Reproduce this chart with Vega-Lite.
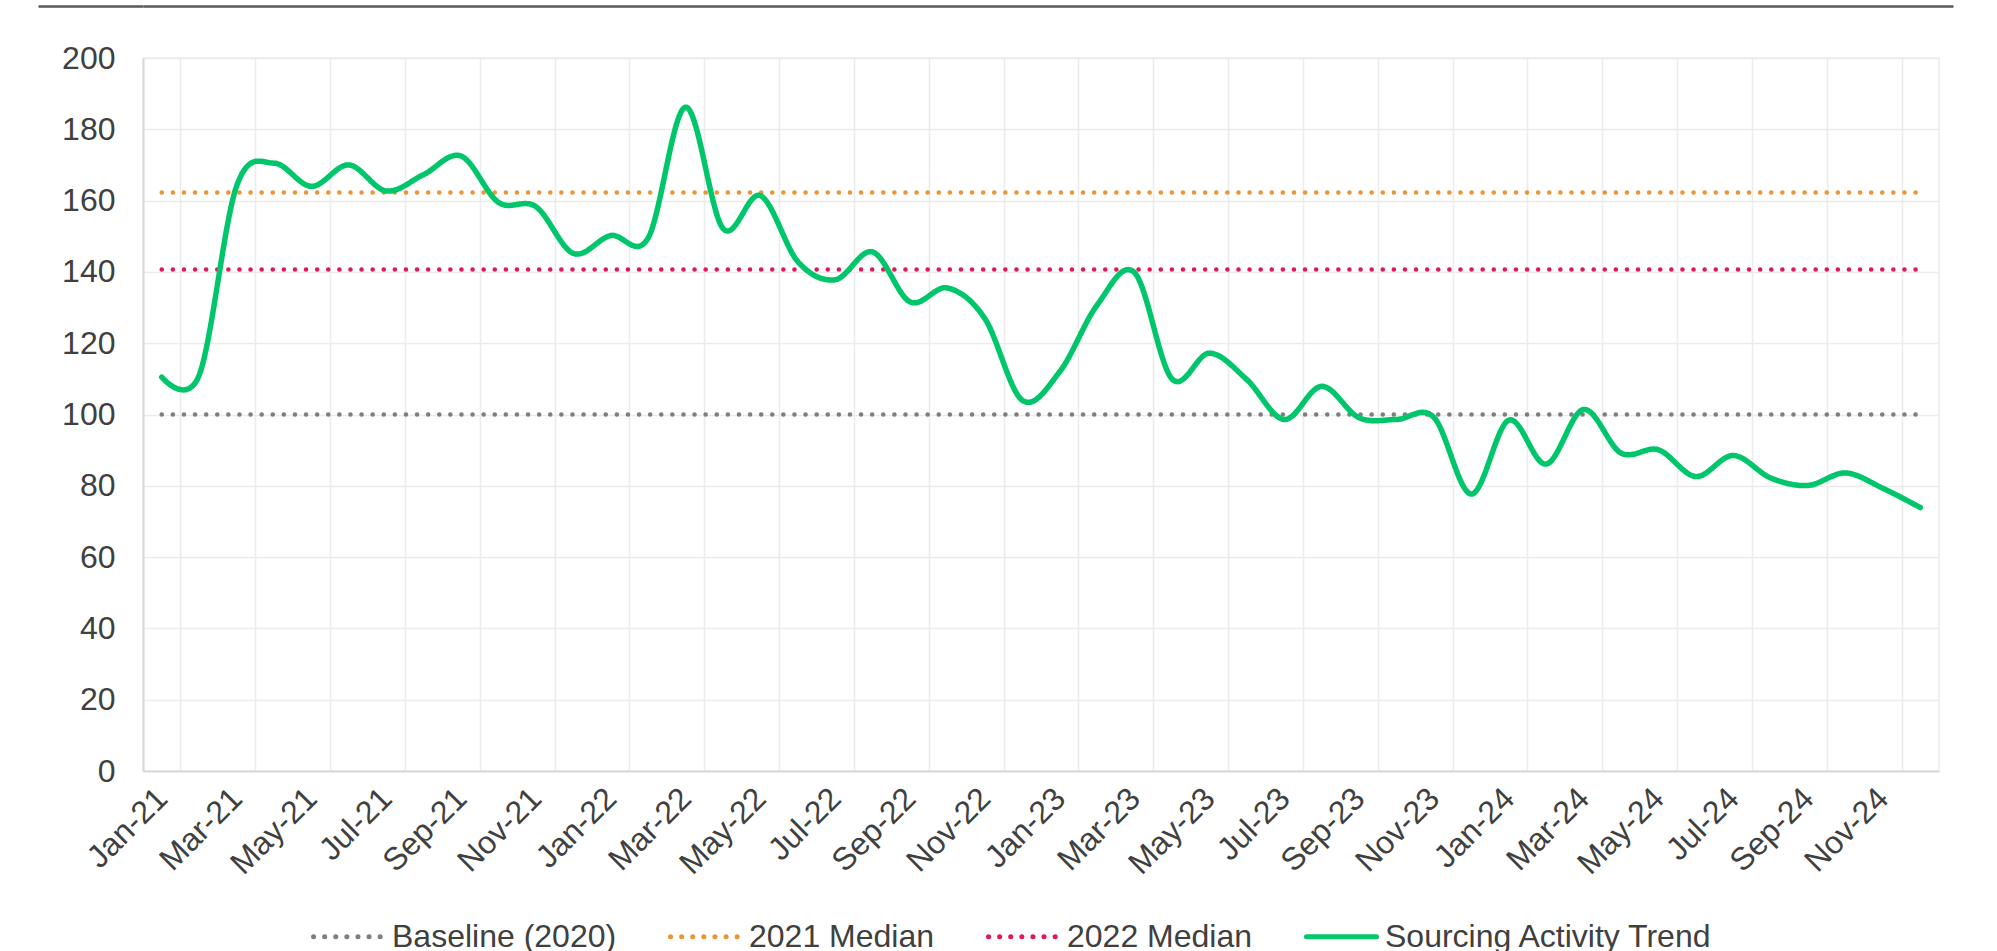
{
  "$schema": "https://vega.github.io/schema/vega-lite/v6.json",
  "background": "white",
  "padding": {"left": 36, "top": 4, "right": 10, "bottom": 0},
  "spacing": 33,
  "columns": 1,
  "align": "none",
  "config": {
    "font": "Liberation Sans",
    "view": {"stroke": null},
    "axis": {
      "labelFont": "Liberation Sans",
      "labelFontSize": 32,
      "labelColor": "#404040",
      "ticks": false,
      "title": null,
      "gridColor": "#ececec",
      "gridWidth": 1.5,
      "domainColor": "#d9d9d9",
      "domainWidth": 2
    },
    "legend": {
      "labelFont": "Liberation Sans",
      "labelFontSize": 32,
      "labelColor": "#404040",
      "labelLimit": 0,
      "symbolType": "stroke",
      "symbolSize": 4900,
      "symbolStrokeWidth": 5,
      "labelOffset": 6,
      "columnPadding": 43
    }
  },
  "datasets": {
    "trend": [
      {"month": "Jan-21", "series": "Sourcing Activity Trend", "value": 110.5},
      {"month": "Feb-21", "series": "Sourcing Activity Trend", "value": 111},
      {"month": "Mar-21", "series": "Sourcing Activity Trend", "value": 164},
      {"month": "Apr-21", "series": "Sourcing Activity Trend", "value": 170.5},
      {"month": "May-21", "series": "Sourcing Activity Trend", "value": 164},
      {"month": "Jun-21", "series": "Sourcing Activity Trend", "value": 170},
      {"month": "Jul-21", "series": "Sourcing Activity Trend", "value": 162.7},
      {"month": "Aug-21", "series": "Sourcing Activity Trend", "value": 167.3},
      {"month": "Sep-21", "series": "Sourcing Activity Trend", "value": 172.5},
      {"month": "Oct-21", "series": "Sourcing Activity Trend", "value": 159.5},
      {"month": "Nov-21", "series": "Sourcing Activity Trend", "value": 158.3},
      {"month": "Dec-21", "series": "Sourcing Activity Trend", "value": 145.2},
      {"month": "Jan-22", "series": "Sourcing Activity Trend", "value": 150.2},
      {"month": "Feb-22", "series": "Sourcing Activity Trend", "value": 149.5},
      {"month": "Mar-22", "series": "Sourcing Activity Trend", "value": 186.2},
      {"month": "Apr-22", "series": "Sourcing Activity Trend", "value": 152.2},
      {"month": "May-22", "series": "Sourcing Activity Trend", "value": 161.4},
      {"month": "Jun-22", "series": "Sourcing Activity Trend", "value": 142.9},
      {"month": "Jul-22", "series": "Sourcing Activity Trend", "value": 137.8},
      {"month": "Aug-22", "series": "Sourcing Activity Trend", "value": 145.6},
      {"month": "Sep-22", "series": "Sourcing Activity Trend", "value": 131.6},
      {"month": "Oct-22", "series": "Sourcing Activity Trend", "value": 135.5},
      {"month": "Nov-22", "series": "Sourcing Activity Trend", "value": 126.9},
      {"month": "Dec-22", "series": "Sourcing Activity Trend", "value": 104},
      {"month": "Jan-23", "series": "Sourcing Activity Trend", "value": 112},
      {"month": "Feb-23", "series": "Sourcing Activity Trend", "value": 130.7},
      {"month": "Mar-23", "series": "Sourcing Activity Trend", "value": 139.8},
      {"month": "Apr-23", "series": "Sourcing Activity Trend", "value": 110},
      {"month": "May-23", "series": "Sourcing Activity Trend", "value": 117.2},
      {"month": "Jun-23", "series": "Sourcing Activity Trend", "value": 109.8},
      {"month": "Jul-23", "series": "Sourcing Activity Trend", "value": 98.6},
      {"month": "Aug-23", "series": "Sourcing Activity Trend", "value": 107.9},
      {"month": "Sep-23", "series": "Sourcing Activity Trend", "value": 99.1},
      {"month": "Oct-23", "series": "Sourcing Activity Trend", "value": 98.6},
      {"month": "Nov-23", "series": "Sourcing Activity Trend", "value": 99.2},
      {"month": "Dec-23", "series": "Sourcing Activity Trend", "value": 77.7},
      {"month": "Jan-24", "series": "Sourcing Activity Trend", "value": 98.4},
      {"month": "Feb-24", "series": "Sourcing Activity Trend", "value": 86.1},
      {"month": "Mar-24", "series": "Sourcing Activity Trend", "value": 101.4},
      {"month": "Apr-24", "series": "Sourcing Activity Trend", "value": 89.2},
      {"month": "May-24", "series": "Sourcing Activity Trend", "value": 90.1},
      {"month": "Jun-24", "series": "Sourcing Activity Trend", "value": 82.6},
      {"month": "Jul-24", "series": "Sourcing Activity Trend", "value": 88.5},
      {"month": "Aug-24", "series": "Sourcing Activity Trend", "value": 82.2},
      {"month": "Sep-24", "series": "Sourcing Activity Trend", "value": 80.1},
      {"month": "Oct-24", "series": "Sourcing Activity Trend", "value": 83.6},
      {"month": "Nov-24", "series": "Sourcing Activity Trend", "value": 79.3},
      {"month": "Dec-24", "series": "Sourcing Activity Trend", "value": 73.9}
    ],
    "refs": [
      {"series": "Baseline (2020)", "value": 100, "from": "Jan-21", "to": "Dec-24"},
      {"series": "2021 Median", "value": 162.3, "from": "Jan-21", "to": "Dec-24"},
      {"series": "2022 Median", "value": 140.7, "from": "Jan-21", "to": "Dec-24"}
    ]
  },
  "concat": [
    {
      "width": 1810,
      "height": 1,
      "data": {"values": []},
      "mark": "text",
      "encoding": {
        "y": {
          "field": "v",
          "type": "quantitative",
          "scale": {"domain": [0, 1], "nice": false},
          "axis": {
            "values": [1],
            "labels": false,
            "domain": false,
            "ticks": true,
            "tickSize": 105,
            "tickWidth": 2.5,
            "tickColor": "#595959",
            "grid": true,
            "gridColor": "#595959",
            "gridWidth": 2.5,
            "minExtent": 105,
            "maxExtent": 105
          }
        }
      }
    },
    {
      "width": 1796,
      "height": 713,
      "view": {"stroke": "#ececec", "strokeWidth": 1.5},
      "encoding": {
        "color": {
          "field": "series",
          "type": "nominal",
          "scale": {
            "domain": ["Baseline (2020)", "2021 Median", "2022 Median", "Sourcing Activity Trend"],
            "range": ["#7f7f7f", "#ef9434", "#e0185c", "#00c66b"]
          },
          "legend": {
            "orient": "none",
            "legendX": 168,
            "legendY": 893,
            "direction": "horizontal",
            "title": null,
            "encode": {"symbols": {"update": {"strokeCap": {"value": "round"}}}}
          }
        },
        "strokeDash": {
          "field": "series",
          "type": "nominal",
          "scale": {
            "domain": ["Baseline (2020)", "2021 Median", "2022 Median", "Sourcing Activity Trend"],
            "range": [[0.1, 11], [0.1, 11], [0.1, 11], [1, 0]]
          },
          "legend": {
            "orient": "none",
            "legendX": 168,
            "legendY": 893,
            "direction": "horizontal",
            "title": null,
            "encode": {"symbols": {"update": {"strokeCap": {"value": "round"}}}}
          }
        }
      },
      "layer": [
        {
          "data": {"name": "refs"},
          "mark": {"type": "rule", "strokeWidth": 4.5, "strokeCap": "round"},
          "encoding": {
            "x": {"field": "from", "type": "ordinal"},
            "x2": {"field": "to"},
            "y": {"field": "value", "type": "quantitative"}
          }
        },
        {
          "data": {"name": "trend"},
          "mark": {"type": "line", "strokeWidth": 5.5, "interpolate": "cardinal", "tension": 0, "strokeCap": "round", "strokeJoin": "round"},
          "encoding": {
            "x": {
              "field": "month",
              "type": "ordinal",
              "sort": null,
              "scale": {
                "domain": ["Jan-21","Feb-21","Mar-21","Apr-21","May-21","Jun-21","Jul-21","Aug-21","Sep-21","Oct-21","Nov-21","Dec-21","Jan-22","Feb-22","Mar-22","Apr-22","May-22","Jun-22","Jul-22","Aug-22","Sep-22","Oct-22","Nov-22","Dec-22","Jan-23","Feb-23","Mar-23","Apr-23","May-23","Jun-23","Jul-23","Aug-23","Sep-23","Oct-23","Nov-23","Dec-23","Jan-24","Feb-24","Mar-24","Apr-24","May-24","Jun-24","Jul-24","Aug-24","Sep-24","Oct-24","Nov-24","Dec-24"],
                "type": "band",
                "paddingInner": 0,
                "paddingOuter": 0
              },
              "axis": {
                "values": ["Jan-21","Mar-21","May-21","Jul-21","Sep-21","Nov-21","Jan-22","Mar-22","May-22","Jul-22","Sep-22","Nov-22","Jan-23","Mar-23","May-23","Jul-23","Sep-23","Nov-23","Jan-24","Mar-24","May-24","Jul-24","Sep-24","Nov-24"],
                "tickBand": "extent",
                "labelAngle": -45,
                "labelPadding": 22,
                "grid": true
              }
            },
            "y": {
              "field": "value",
              "type": "quantitative",
              "scale": {"domain": [0, 200], "nice": false},
              "axis": {"values": [0, 20, 40, 60, 80, 100, 120, 140, 160, 180, 200], "labelPadding": 28, "minExtent": 105, "grid": true}
            }
          }
        }
      ]
    }
  ]
}
